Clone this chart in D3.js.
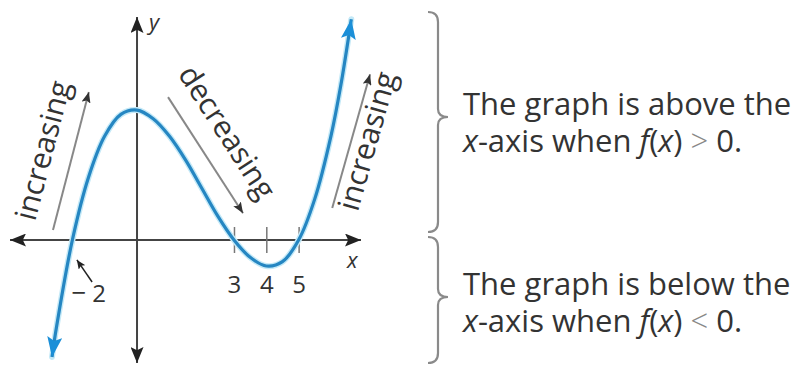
<!DOCTYPE html>
<html>
<head>
<meta charset="utf-8">
<script src="https://cdn.jsdelivr.net/npm/d3@7"></script>
<style>
  body { margin: 0; background: #fff; }
  svg { display: block; font-family: "Open Sans", sans-serif; }
</style>
</head>
<body>
<svg id="chart" width="804" height="366"></svg>
<script>
// points (x, f(x))
const curveX = [-2.63, -2.5, -2, -1.5, -1, -0.5, 0, 0.5, 1, 1.5, 2, 2.5, 3, 3.5, 4, 4.5, 5, 5.5, 6, 6.3, 6.63];
const curveY = [-27, -20.5, 0, 14.5, 24, 29, 30, 28, 24, 18.5, 12, 5.5, 0, -4, -6, -5, 0, 9.5, 24, 35.5, 51];

const tickValues = [3, 4, 5];
const rootValues = [-2];
const axisX = [-3.93, 6.93];
const axisY = [-28.4, 51.5];

// gray trend arrows and their labels, in graph units
const trendLabels = ["increasing", "decreasing", "increasing"];
const trendFrom = [[-2.6, 2.3], [0.96, 33], [6.04, 7.4]];
const trendTo = [[-1.49, 34.2], [3.28, 6.2], [7.21, 38.3]];
const trendAt = [[-2.6, 20.1], [2.52, 23.6], [7.43, 22.2]];

// little arrow from the "-2" label to the root
const rootArrowFrom = [-1.39, -9.7];
const rootArrowTo = [-1.86, -4.6];

const noteFirst = ["The graph is above the", "The graph is below the"];
const noteSign = [">", "<"];

let width = 804,
    height = 366,
    ink = "#333",
    blue = "#2586c2";

let svg = d3.select("#chart");

let x = d3.scaleLinear().domain(axisX).range([10, 361]),
    y = d3.scaleLinear().domain(axisY).range([363, 17]);

function add_marker(id, len, half, color) {
  svg.select("defs")
    .append("marker")
    .attr("id", id)
    .attr("viewBox", `${-len} ${-half} ${len} ${2 * half}`)
    .attr("refX", 0)
    .attr("refY", 0)
    .attr("markerWidth", len)
    .attr("markerHeight", 2 * half)
    .attr("markerUnits", "userSpaceOnUse")
    .attr("orient", "auto-start-reverse")
    .append("path")
    .attr("d", `M0,0L${-len},${-half}L${-len * 0.8},0L${-len},${half}Z`)
    .attr("fill", color);
}

function draw_axes() {
  let g = svg.append("g").attr("id", "axes");

  g.append("line")
    .attr("x1", x(axisX[0])).attr("x2", x(axisX[1]))
    .attr("y1", y(0)).attr("y2", y(0))
    .attr("stroke", "#444").attr("stroke-width", 2)
    .attr("marker-start", "url(#axisHead)")
    .attr("marker-end", "url(#axisHead)");

  g.append("line")
    .attr("x1", x(0)).attr("x2", x(0))
    .attr("y1", y(axisY[0])).attr("y2", y(axisY[1]))
    .attr("stroke", "#444").attr("stroke-width", 2)
    .attr("marker-start", "url(#axisHead)")
    .attr("marker-end", "url(#axisHead)");

  let ticks = g.append("g")
    .attr("transform", `translate(0,${y(0)})`)
    .call(d3.axisBottom(x).tickValues(tickValues).tickSize(13).tickFormat(d3.format("d")));

  ticks.attr("font-family", null).attr("font-size", 24);
  ticks.select(".domain").remove();
  ticks.selectAll(".tick line")
    .attr("y1", -13).attr("y2", 13)
    .attr("stroke", "#777").attr("stroke-width", 1.5);
  ticks.selectAll(".tick text")
    .attr("y", 53).attr("dy", null)
    .attr("fill", ink);

  // axis names
  g.append("text")
    .attr("x", x(axisX[1]) - 14).attr("y", y(0) + 28)
    .attr("font-size", 22).attr("font-style", "italic").attr("fill", ink)
    .text("x");
  g.append("text")
    .attr("x", x(0) + 12).attr("y", y(axisY[1]) + 13)
    .attr("font-size", 22).attr("font-style", "italic").attr("fill", ink)
    .text("y");

  // root label with its pointer
  let root = g.selectAll(".root")
    .data(rootValues).enter()
    .append("text")
    .attr("class", "root")
    .attr("x", d => x(d) - 1).attr("y", y(0) + 62)
    .attr("font-size", 24).attr("fill", ink);
  root.append("tspan").attr("font-size", 26).text("\u2212");
  root.append("tspan").attr("dx", 6).text(d => Math.abs(d));

  g.append("line")
    .attr("x1", x(rootArrowFrom[0])).attr("y1", y(rootArrowFrom[1]))
    .attr("x2", x(rootArrowTo[0])).attr("y2", y(rootArrowTo[1]))
    .attr("stroke", "#222").attr("stroke-width", 1.5)
    .attr("marker-end", "url(#smallHead)");
}

function draw_curve() {
  let pts = curveX.map((d, i) => [x(d), y(curveY[i])]);
  let line = d3.line().curve(d3.curveCatmullRom.alpha(0.5));

  svg.append("path")
    .attr("d", line(pts))
    .attr("fill", "none")
    .attr("stroke", "#c4e9f7")
    .attr("stroke-width", 6)
    .attr("stroke-linecap", "round");

  svg.append("path")
    .attr("d", line(pts))
    .attr("fill", "none")
    .attr("stroke", blue)
    .attr("stroke-width", 3.2)
    .attr("marker-start", "url(#blueHead)")
    .attr("marker-end", "url(#blueHead)");
}

function draw_trends() {
  let g = svg.append("g").attr("id", "trends");

  trendLabels.forEach((label, i) => {
    let x1 = x(trendFrom[i][0]), y1 = y(trendFrom[i][1]),
        x2 = x(trendTo[i][0]), y2 = y(trendTo[i][1]);

    g.append("line")
      .attr("x1", x1).attr("y1", y1)
      .attr("x2", x2).attr("y2", y2)
      .attr("stroke", "#888").attr("stroke-width", 2)
      .attr("marker-end", "url(#grayHead)");

    // text reads along the arrow, left to right
    let angle = Math.atan2(y2 - y1, x2 - x1) * 180 / Math.PI;
    if (angle < -90) angle += 180;
    if (angle > 90) angle -= 180;

    g.append("text")
      .attr("transform", `translate(${x(trendAt[i][0])},${y(trendAt[i][1])}) rotate(${angle})`)
      .attr("text-anchor", "middle")
      .attr("font-size", 30)
      .attr("fill", ink)
      .text(label);
  });
}

function brace(sx, y0, ym, y1) {
  let c = 10, w = 10;
  return `M${sx - c},${y0}Q${sx},${y0} ${sx},${y0 + c}` +
         `L${sx},${ym - 8}Q${sx},${ym} ${sx + w},${ym}` +
         `Q${sx},${ym} ${sx},${ym + 8}` +
         `L${sx},${y1 - c}Q${sx},${y1} ${sx - c},${y1}`;
}

function draw_notes() {
  let g = svg.append("g").attr("id", "notes");
  let spans = [[0, 12, 117, 232], [1, 237, 297, 363]];

  spans.forEach(([i, y0, ym, y1]) => {
    g.append("path")
      .attr("d", brace(438, y0, ym, y1))
      .attr("fill", "none")
      .attr("stroke", "#8a8a8a")
      .attr("stroke-width", 2.2);

    let base = ym - 2;
    g.append("text")
      .attr("x", 463).attr("y", base)
      .attr("font-size", 31).attr("fill", ink)
      .text(noteFirst[i]);

    let t = g.append("text")
      .attr("x", 463).attr("y", base + 37)
      .attr("font-size", 31).attr("fill", ink);
    t.append("tspan").attr("font-style", "italic").text("x");
    t.append("tspan").text("-axis when ");
    t.append("tspan").attr("font-style", "italic").text("f");
    t.append("tspan").text("(");
    t.append("tspan").attr("font-style", "italic").text("x");
    t.append("tspan").text(") ");
    t.append("tspan").attr("fill", "#888").attr("font-weight", 300).text(noteSign[i]);
    t.append("tspan").text(" 0.");
  });
}

svg.append("rect").attr("width", width).attr("height", height).attr("fill", "#fff");
svg.append("defs");
add_marker("axisHead", 16, 6.5, "#222");
add_marker("grayHead", 11, 4.5, "#333");
add_marker("smallHead", 9, 4, "#222");
add_marker("blueHead", 20, 7.5, "#1b8fd8");

draw_trends();
draw_axes();
draw_curve();
draw_notes();
</script>
</body>
</html>
